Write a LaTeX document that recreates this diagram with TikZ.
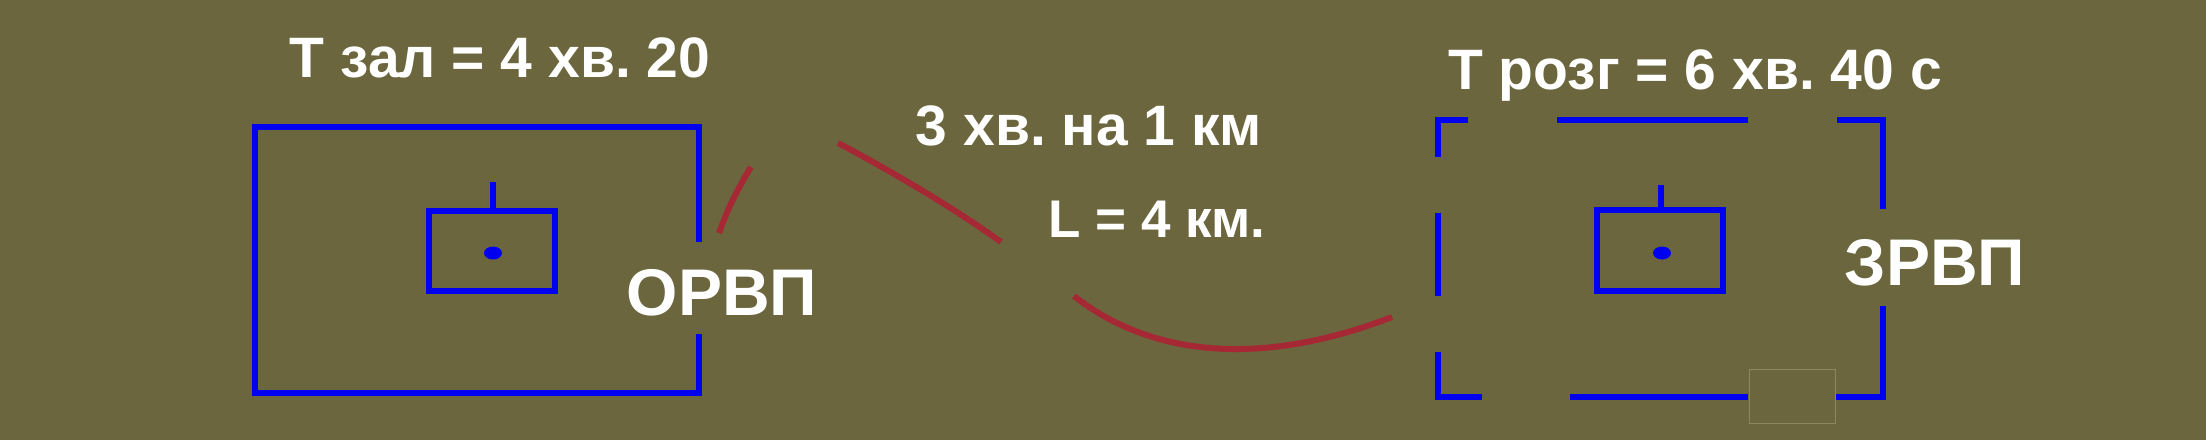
\documentclass[tikz,border=0pt]{standalone}
\usepackage{fontspec}
\setmainfont{Liberation Sans}
\frenchspacing
\definecolor{bgolive}{RGB}{107,102,61}
\definecolor{myblue}{RGB}{0,0,240}
\definecolor{myred}{RGB}{165,40,52}
\definecolor{faint}{RGB}{140,135,98}
\begin{document}
\begin{tikzpicture}[x=1pt,y=-1pt,
  blueline/.style={draw=myblue, line width=5.5pt},
  redline/.style={draw=myred, line width=6pt},
  lbl/.style={text=white, font=\bfseries\fontsize{57}{60}\selectfont\frenchspacing, inner sep=0pt, anchor=base},
  biglbl/.style={lbl, font=\bfseries\fontsize{66}{70}\selectfont}]
\fill[bgolive] (0,0) rectangle (2206,440);
\useasboundingbox (0,0) rectangle (2206,440);

% left position (ORVP)
\draw[blueline] (699,242) -- (699,127) -- (255,127) -- (255,393) -- (699,393) -- (699,334);
\draw[blueline] (429,211) rectangle (555,291);
\draw[blueline] (493,182) -- (493,211);
\fill[myblue] (493,253) ellipse [x radius=9pt, y radius=6.5pt];

% right position (ZRVP), broken frame
\draw[blueline] (1438,157) -- (1438,120) -- (1468,120);
\draw[blueline] (1557,120) -- (1748,120);
\draw[blueline] (1837,120) -- (1883,120) -- (1883,209);
\draw[blueline] (1438,213) -- (1438,296);
\draw[blueline] (1438,352) -- (1438,397) -- (1482,397);
\draw[blueline] (1570,397) -- (1748,397);
\draw[blueline] (1836,397) -- (1883,397) -- (1883,306);
\draw[faint, line width=1pt] (1749,369) rectangle (1835,423);
\draw[blueline] (1597,210) rectangle (1723,291);
\draw[blueline] (1661,185) -- (1661,210);
\fill[myblue] (1662,253) ellipse [x radius=9pt, y radius=6.5pt];

% route
\draw[redline] (719,233) .. controls (729,205) and (740,185) .. (751,167);
\draw[redline] (838,143) .. controls (880,165) and (950,205) .. (1001,242);
\draw[redline] (1074,296) .. controls (1150,356) and (1260,368) .. (1392,317);

% labels
\node[lbl] (tzal) at (500,77) {Т зал = 4 хв. 20};
\node[lbl] (trozg) at (1695,89) {Т розг = 6 хв. 40 с};
\node[lbl] (speed) at (1089,145) {3 хв. на 1 км};
\node[lbl, font=\bfseries\fontsize{53}{56}\selectfont] (dist) at (1157,237) {L = 4 км.};
\node[biglbl] (orvp) at (722,315) {ОРВП};
\node[biglbl] (zrvp) at (1935,285) {ЗРВП};
\end{tikzpicture}
\end{document}
